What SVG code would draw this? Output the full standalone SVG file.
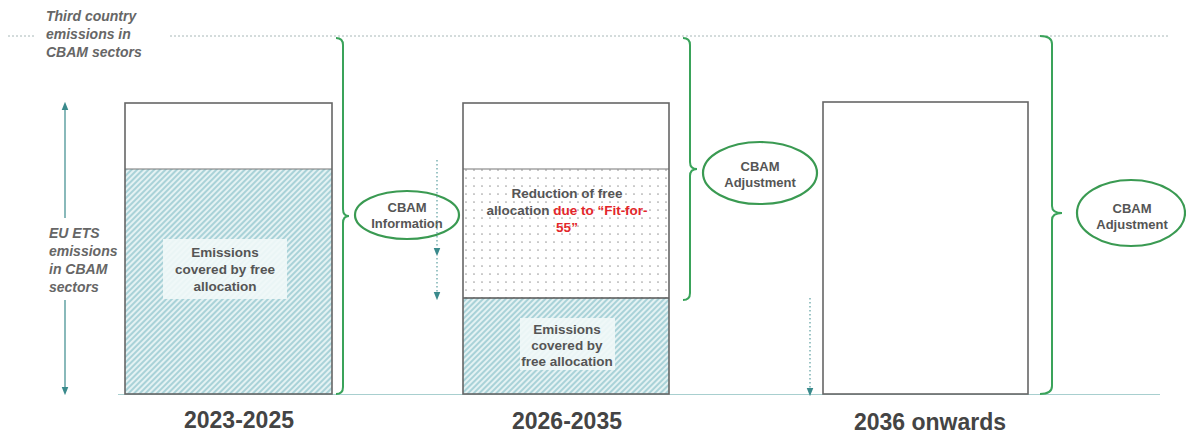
<svg xmlns="http://www.w3.org/2000/svg" width="1186" height="434" viewBox="0 0 1186 434">
<style>
text{font-family:"Liberation Sans",Arial,sans-serif;font-weight:bold;fill:#555}
.side{font-size:14px;font-style:italic;fill:#666}
.lbl{font-size:13.5px;text-anchor:middle}
.ell{font-size:13px;text-anchor:middle}
.year{font-size:23px;text-anchor:middle;fill:#444}
.red{fill:#e3262a}
.bar{fill:none;stroke:#666;stroke-width:1.6}
.brace{fill:none;stroke:#3aa35a;stroke-width:2}
.oval{fill:#fff;stroke:#3a9a52;stroke-width:2.2}
.tline{stroke:#3a8a8c;stroke-width:1.2;fill:none}
.dline{stroke:#5a9ea0;stroke-width:1.2;fill:none;stroke-dasharray:1.5 2.5}
</style>
<defs>
<pattern id="hatch" width="4" height="4" patternUnits="userSpaceOnUse" patternTransform="rotate(45)">
<rect width="4" height="4" fill="#e4f2f3"/>
<rect width="2" height="4" fill="#a9d2d8"/>
</pattern>
<pattern id="dots" width="8" height="8" patternUnits="userSpaceOnUse">
<rect width="8" height="8" fill="#fff"/>
<circle cx="2" cy="2" r="0.85" fill="#a0a0a0"/>
</pattern>
<marker id="ah" viewBox="0 0 10 10" refX="5" refY="5" markerWidth="7" markerHeight="7" orient="auto">
<path d="M0,1 L10,5 L0,9 Z" fill="#3a8a8c"/>
</marker>
</defs>

<g id="guides">
<line x1="8" y1="36" x2="36" y2="36" stroke="#a8b8b8" stroke-width="1" stroke-dasharray="2 2"/>
<line x1="170" y1="36" x2="1170" y2="36" stroke="#a8b8b8" stroke-width="1" stroke-dasharray="2 2"/>
<line x1="118" y1="394.5" x2="1160" y2="394.5" stroke="#a8cfcf" stroke-width="1.2"/>
</g>

<g id="label-third">
<text class="side" x="46" y="21">Third country</text>
<text class="side" x="46" y="39">emissions in</text>
<text class="side" x="46" y="57">CBAM sectors</text>
</g>

<g id="label-euets">
<text class="side" x="49" y="238">EU ETS</text>
<text class="side" x="49" y="256">emissions</text>
<text class="side" x="49" y="274">in CBAM</text>
<text class="side" x="49" y="292">sectors</text>
</g>

<g id="bar-2023">
<rect x="125" y="103" width="207" height="291" fill="#fff"/>
<rect x="125" y="169" width="207" height="225" fill="url(#hatch)"/>
<line x1="125" y1="169" x2="332" y2="169" stroke="#777" stroke-width="1.2"/>
<rect class="bar" x="125" y="103" width="207" height="291"/>
<rect x="163" y="239" width="124" height="60" fill="#f1f8f8" opacity="0.9"/>
<text class="lbl" x="225" y="257">Emissions</text>
<text class="lbl" x="225" y="274">covered by free</text>
<text class="lbl" x="225" y="291">allocation</text>
</g>

<g id="bar-2026">
<rect x="463" y="103" width="206" height="291" fill="#fff"/>
<rect x="463" y="169" width="206" height="129" fill="url(#dots)"/>
<rect x="463" y="298" width="206" height="96" fill="url(#hatch)"/>
<line x1="463" y1="169" x2="669" y2="169" stroke="#777" stroke-width="1.2"/>
<line x1="463" y1="298" x2="669" y2="298" stroke="#555" stroke-width="1.5"/>
<rect class="bar" x="463" y="103" width="206" height="291"/>
<text class="lbl" x="567" y="198">Reduction of free</text>
<text class="lbl" x="567" y="215">allocation <tspan class="red">due to “Fit-for-</tspan></text>
<text class="lbl red" x="567" y="232">55”</text>
<rect x="520" y="318" width="95" height="52" fill="#f1f8f8" opacity="0.9"/>
<text class="lbl" x="567" y="334">Emissions</text>
<text class="lbl" x="567" y="350">covered by</text>
<text class="lbl" x="567" y="366">free allocation</text>
</g>

<g id="bar-2036">
<rect class="bar" x="823" y="102" width="205" height="292" fill="#fff"/>
</g>

<g id="oval-info">
<ellipse class="oval" cx="407" cy="215" rx="52" ry="24"/>
<text class="ell" x="407" y="212">CBAM</text>
<text class="ell" x="407" y="228">Information</text>
</g>

<g id="oval-adj1">
<ellipse class="oval" cx="760" cy="173" rx="57" ry="31"/>
<text class="ell" x="760" y="171">CBAM</text>
<text class="ell" x="760" y="187">Adjustment</text>
</g>

<g id="oval-adj2">
<ellipse class="oval" cx="1131" cy="213" rx="54" ry="33"/>
<text class="ell" x="1132" y="213">CBAM</text>
<text class="ell" x="1132" y="229">Adjustment</text>
</g>

<g id="years">
<text class="year" x="239" y="428">2023-2025</text>
<text class="year" x="567" y="429">2026-2035</text>
<text class="year" x="930" y="430">2036 onwards</text>
</g>

<g id="connectors">
<path class="brace" d="M336 38 Q343 38 343 45 L343 209 Q343 216 349 216 Q343 216 343 223 L343 387 Q343 394 336 394"/>
<path class="brace" d="M683 38 Q690 38 690 45 L690 162 Q690 169 697 169 Q690 169 690 176 L690 293 Q690 300 683 300"/>
<path class="brace" d="M1040 36 Q1052 36 1052 44 L1052 206 Q1052 213 1062 213 Q1052 213 1052 220 L1052 386 Q1052 394 1040 394"/>
<line class="tline" x1="65" y1="218" x2="65" y2="106" marker-end="url(#ah)"/>
<line class="tline" x1="65" y1="300" x2="65" y2="391" marker-end="url(#ah)"/>
<line class="dline" x1="437" y1="160" x2="437" y2="252" marker-end="url(#ah)"/>
<line class="dline" x1="437" y1="258" x2="437" y2="296" marker-end="url(#ah)"/>
<line class="dline" x1="810" y1="298" x2="810" y2="392" marker-end="url(#ah)"/>
</g>
</svg>
